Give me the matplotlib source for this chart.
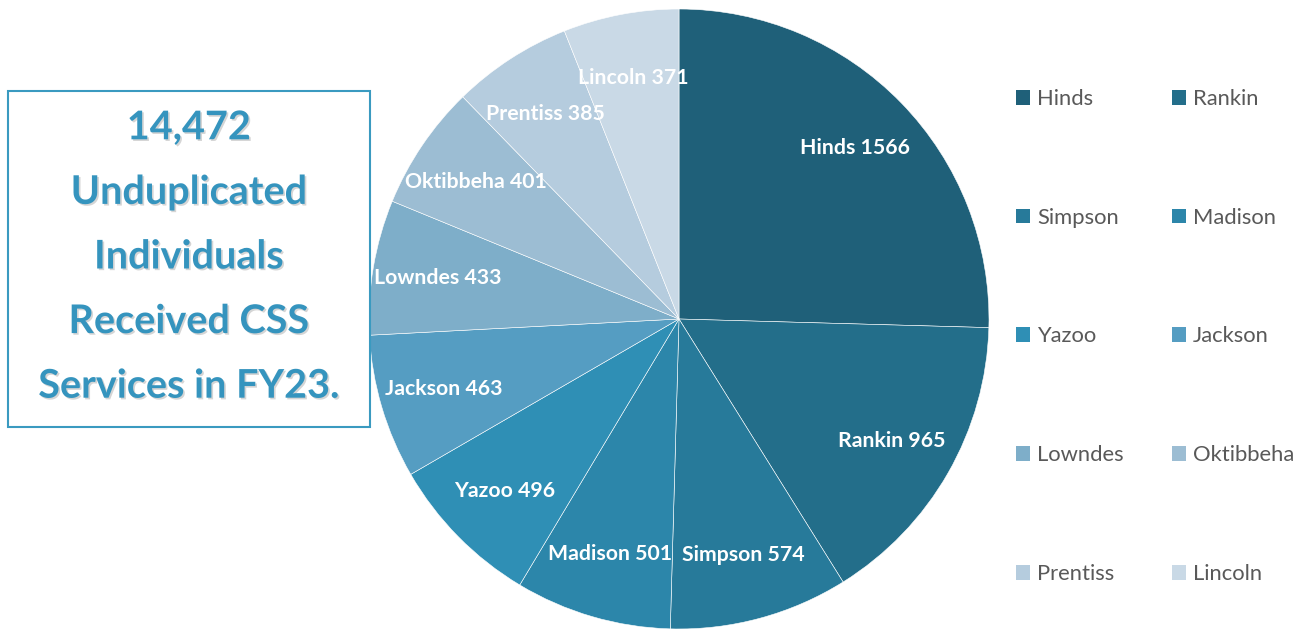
import matplotlib
matplotlib.use("Agg")
import matplotlib.pyplot as plt
from matplotlib.patches import Rectangle, Patch
import matplotlib.patheffects as pe

counties = ["Hinds", "Rankin", "Simpson", "Madison", "Yazoo", "Jackson",
            "Lowndes", "Oktibbeha", "Prentiss", "Lincoln"]
values = [1566, 965, 574, 501, 496, 463, 433, 401, 385, 371]
colors = ["#1F6079", "#236E8A", "#277A9A", "#2C86AA", "#2F8FB5", "#559DC2",
          "#7EAEC9", "#9CBDD3", "#B5CCDE", "#C9D9E6"]
headline = "14,472\nUnduplicated\nIndividuals\nReceived CSS\nServices in FY23."

plt.rcParams['font.family'] = ['Lato', 'DejaVu Sans']

W, H = 1302, 630
fig = plt.figure(figsize=(W / 100, H / 100), dpi=100)

cx, cy, r = 679, 319, 310
ax = fig.add_axes([(cx - r) / W, (H - cy - r) / H, 2 * r / W, 2 * r / H])
labels = [f"{c} {v}" for c, v in zip(counties, values)]
wedges, texts = ax.pie(values, colors=colors, startangle=90, counterclock=False,
                       labels=labels, labeldistance=0.79,
                       wedgeprops=dict(edgecolor="white", linewidth=0.4),
                       textprops=dict(color="white", fontsize=15.3, fontweight="bold"))
for t in texts:
    t.set_ha("center")
    t.set_va("center")
ax.set_aspect("equal")
ax.set_xlim(-1, 1)
ax.set_ylim(-1, 1)

# Text box
bx0, by0, bx1, by1 = 8, 91, 370, 427
fig.patches.append(Rectangle((bx0 / W, (H - by1) / H), (bx1 - bx0) / W, (by1 - by0) / H,
                             transform=fig.transFigure, fill=False,
                             edgecolor="#3A9AC0", linewidth=1.5))
fig.text((bx0 + bx1) / 2 / W, (H - 257) / H, headline,
         ha="center", va="center", fontsize=28.5, fontweight="bold",
         color="#3594BE", linespacing=1.92,
         path_effects=[pe.SimplePatchShadow(offset=(1.2, -1.2), shadow_rgbFace="#888888", alpha=0.35),
                       pe.Normal()])

# Legend
order = [0, 2, 4, 6, 8, 1, 3, 5, 7, 9]
handles = [Patch(facecolor=colors[i], edgecolor="none") for i in order]
leg_labels = [counties[i] for i in order]
fig.legend(handles, leg_labels, ncol=2, loc="upper left",
           bbox_to_anchor=(1016 / W, (H - 89) / H), frameon=False,
           borderaxespad=0, borderpad=0,
           fontsize=15.8, labelcolor="#595959", handlelength=0.65, handleheight=0.65,
           handletextpad=0.3, columnspacing=2.2, labelspacing=4.5)

fig.savefig("out.png", dpi=100)
